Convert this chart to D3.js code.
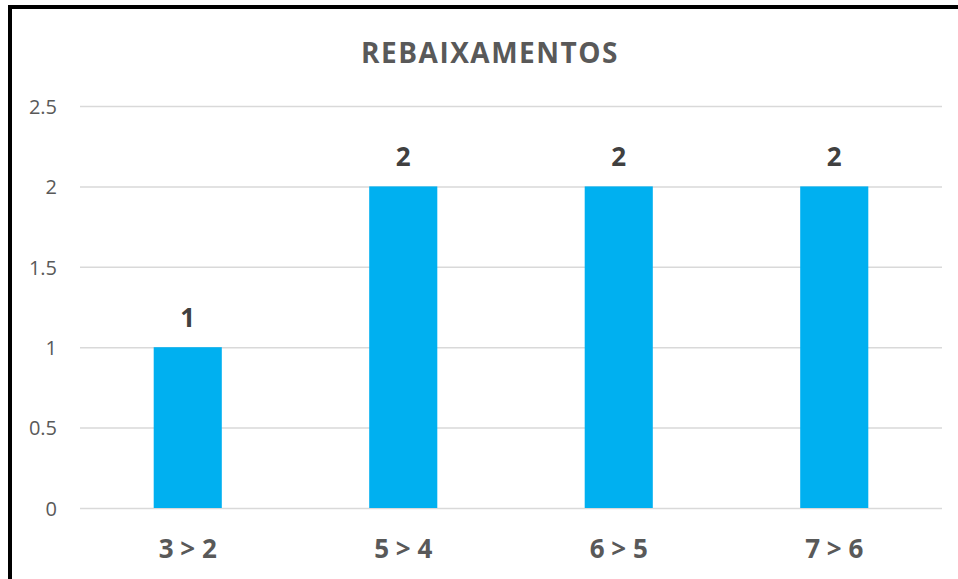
<!DOCTYPE html>
<html>
<head>
<meta charset="utf-8">
<script src="https://cdn.jsdelivr.net/npm/d3@7"></script>
<style>
html,body{margin:0;padding:0;background:#fff;overflow:hidden;}
svg{display:block;}
</style>
</head>
<body>
<svg id="chart" width="958" height="579"></svg>
<script>
const title = "REBAIXAMENTOS";
const categories = ["3 > 2", "5 > 4", "6 > 5", "7 > 6"];
const values = [1, 2, 2, 2];
const yTicks = [0, 0.5, 1, 1.5, 2, 2.5];

const svg = d3.select("#chart");
const W = 958, H = 579;
const plot = {left: 80, right: 942, top: 106, bottom: 508};

svg.append("rect").attr("x", 0).attr("y", 0).attr("width", W).attr("height", H).attr("fill", "#fff");
// border (cropped frame)
svg.append("rect").attr("x", 10).attr("y", 7).attr("width", 1200).attr("height", 1200)
  .attr("fill", "none").attr("stroke", "#000").attr("stroke-width", 4);

const x = d3.scaleBand().domain(categories).range([plot.left, plot.right]).padding(0);
const y = d3.scaleLinear().domain([0, 2.5]).range([plot.bottom, plot.top]);
const barFrac = 0.316;

// gridlines
const yAxis = d3.axisLeft(y).tickValues(yTicks).tickSize(-(plot.right - plot.left)).tickPadding(23)
  .tickFormat(d => String(d));
const gy = svg.append("g").attr("transform", `translate(${plot.left},0)`).call(yAxis);
gy.select(".domain").remove();
gy.selectAll(".tick line").attr("stroke", "#d9d9d9").attr("stroke-width", 1.5);
gy.selectAll(".tick text").attr("fill", "#595959").attr("font-family", "'Open Sans', sans-serif")
  .attr("font-size", 20).attr("dy", "0.36em");

// bars
const bw = x.bandwidth() * barFrac;
svg.append("g").selectAll("rect").data(categories).join("rect")
  .attr("x", (d) => x(d) + (x.bandwidth() - bw) / 2)
  .attr("width", bw)
  .attr("y", (d, i) => y(values[i]))
  .attr("height", (d, i) => y(0) - y(values[i]))
  .attr("fill", "#00b0f0");

// value labels
svg.append("g").selectAll("text").data(categories).join("text")
  .attr("x", d => x(d) + x.bandwidth() / 2)
  .attr("y", (d, i) => y(values[i]) - 20)
  .attr("text-anchor", "middle")
  .attr("font-family", "'Open Sans', sans-serif").attr("font-weight", "bold")
  .attr("font-size", 26).attr("fill", "#404040")
  .text((d, i) => values[i]);

// x axis labels
const xAxis = d3.axisBottom(x).tickSize(0).tickPadding(0);
const gx = svg.append("g").attr("transform", `translate(0,${plot.bottom})`).call(xAxis);
gx.select(".domain").remove();
gx.selectAll(".tick text").attr("fill", "#595959").attr("font-family", "'Open Sans', sans-serif")
  .attr("font-weight", "bold").attr("font-size", 26).attr("dy", 0).attr("y", 50);

// title
svg.append("text").attr("x", 490).attr("y", 63).attr("text-anchor", "middle")
  .attr("font-family", "'Open Sans', sans-serif").attr("font-weight", "bold")
  .attr("font-size", 28).attr("letter-spacing", 1.5).attr("fill", "#595959").text(title);
</script>
</body>
</html>
